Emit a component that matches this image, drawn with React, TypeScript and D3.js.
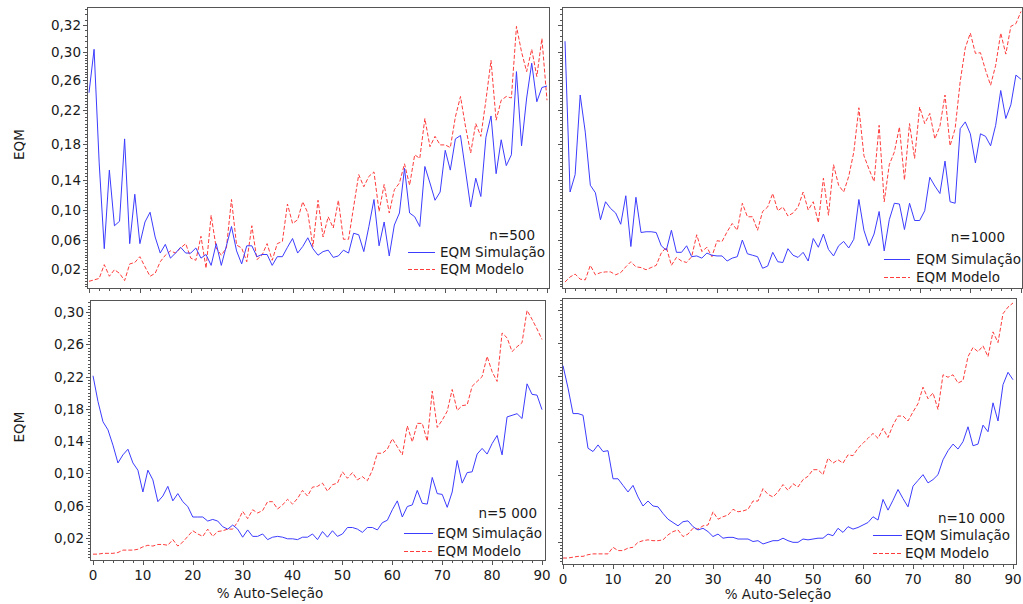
import React, { useRef, useEffect } from "react";
import * as d3 from "d3";

// % auto-seleção, 0..90
const selecao = d3.range(0, 91);

const simul500 = [
  0.243, 0.302, 0.159, 0.048, 0.151, 0.079, 0.085, 0.186, 0.055, 0.121,
  0.055, 0.084, 0.097, 0.064, 0.042, 0.054, 0.035, 0.042, 0.05, 0.042,
  0.042, 0.049, 0.035, 0.04, 0.025, 0.055, 0.025, 0.052, 0.078, 0.045,
  0.027, 0.052, 0.052, 0.037, 0.04, 0.04, 0.025, 0.037, 0.037, 0.05,
  0.062, 0.042, 0.051, 0.063, 0.048, 0.039, 0.044, 0.046, 0.036, 0.038,
  0.046, 0.042, 0.069, 0.067, 0.044, 0.078, 0.114, 0.052, 0.084, 0.038,
  0.08, 0.096, 0.153, 0.096, 0.091, 0.078, 0.155, 0.136, 0.113, 0.124,
  0.173, 0.151, 0.186, 0.19, 0.15, 0.104, 0.142, 0.118, 0.188, 0.213,
  0.147, 0.185, 0.156, 0.168, 0.272, 0.178, 0.236, 0.284, 0.231, 0.25,
  0.252,
];
const modelo500 = [
  0.003, 0.005, 0.007, 0.026, 0.01, 0.019, 0.014, 0.004, 0.027, 0.029,
  0.037, 0.023, 0.01, 0.014, 0.03, 0.039, 0.045, 0.042, 0.049, 0.055,
  0.035, 0.032, 0.065, 0.021, 0.093, 0.049, 0.039, 0.049, 0.114, 0.053,
  0.049, 0.03, 0.079, 0.033, 0.039, 0.055, 0.032, 0.055, 0.058, 0.108,
  0.082, 0.087, 0.111, 0.096, 0.051, 0.113, 0.064, 0.091, 0.076, 0.113,
  0.061, 0.061, 0.104, 0.146, 0.131, 0.144, 0.149, 0.098, 0.134, 0.096,
  0.127, 0.136, 0.158, 0.133, 0.168, 0.164, 0.21, 0.177, 0.189, 0.179,
  0.179, 0.176, 0.212, 0.238, 0.2, 0.17, 0.204, 0.189, 0.233, 0.288,
  0.208, 0.233, 0.238, 0.236, 0.319, 0.3, 0.272, 0.302, 0.265, 0.31,
  0.233,
];
const simul1000 = [
  0.308, 0.124, 0.146, 0.24, 0.194, 0.133, 0.123, 0.087, 0.111, 0.102,
  0.096, 0.081, 0.119, 0.051, 0.117, 0.07, 0.071, 0.071, 0.07, 0.052,
  0.046, 0.073, 0.043, 0.043, 0.052, 0.037, 0.038, 0.035, 0.042, 0.039,
  0.038, 0.038, 0.031, 0.035, 0.037, 0.06, 0.041, 0.039, 0.037, 0.021,
  0.024, 0.043, 0.03, 0.029, 0.048, 0.039, 0.036, 0.043, 0.031, 0.062,
  0.05, 0.068, 0.047, 0.038, 0.052, 0.058, 0.049, 0.061, 0.114, 0.073,
  0.052, 0.068, 0.098, 0.045, 0.087, 0.109, 0.108, 0.074, 0.109, 0.086,
  0.086, 0.099, 0.143, 0.132, 0.122, 0.161, 0.111, 0.109, 0.198, 0.206,
  0.192, 0.159, 0.192, 0.189, 0.178, 0.202, 0.246, 0.21, 0.227, 0.267,
  0.261,
];
const modelo1000 = [
  0.002, 0.009, 0.013, 0.006, 0.005, 0.025, 0.012, 0.015, 0.016, 0.016,
  0.012, 0.015, 0.023, 0.03, 0.023, 0.022, 0.019, 0.022, 0.025, 0.042,
  0.05, 0.025, 0.036, 0.031, 0.029, 0.037, 0.067, 0.044, 0.05, 0.037,
  0.059, 0.058, 0.071, 0.082, 0.073, 0.109, 0.091, 0.091, 0.073, 0.098,
  0.104, 0.122, 0.099, 0.104, 0.092, 0.096, 0.104, 0.124, 0.1, 0.111,
  0.083, 0.142, 0.093, 0.157, 0.133, 0.124, 0.144, 0.171, 0.223, 0.167,
  0.152, 0.138, 0.202, 0.111, 0.157, 0.171, 0.2, 0.14, 0.204, 0.164,
  0.224, 0.204, 0.216, 0.186, 0.201, 0.24, 0.178, 0.198, 0.258, 0.303,
  0.314, 0.298, 0.299, 0.274, 0.253, 0.281, 0.314, 0.297, 0.319, 0.321,
  0.33,
];
const simul5000 = [
  0.221, 0.189, 0.164, 0.154, 0.135, 0.113, 0.123, 0.13, 0.113, 0.104,
  0.077, 0.104, 0.092, 0.065, 0.072, 0.084, 0.066, 0.075, 0.065, 0.059,
  0.046, 0.046, 0.046, 0.041, 0.043, 0.041, 0.034, 0.031, 0.036, 0.031,
  0.021, 0.03, 0.022, 0.022, 0.025, 0.018, 0.021, 0.022, 0.021, 0.019,
  0.019, 0.018, 0.021, 0.021, 0.025, 0.018, 0.028, 0.021, 0.029, 0.022,
  0.025, 0.033, 0.033, 0.031, 0.027, 0.033, 0.033, 0.03, 0.039, 0.042,
  0.055, 0.066, 0.046, 0.059, 0.061, 0.079, 0.063, 0.062, 0.095, 0.075,
  0.074, 0.058, 0.077, 0.116, 0.088, 0.101, 0.102, 0.124, 0.131, 0.124,
  0.137, 0.147, 0.123, 0.17, 0.172, 0.174, 0.168, 0.211, 0.198, 0.197,
  0.179,
];
const modelo5000 = [
  0.0, 0.0, 0.001, 0.001, 0.001, 0.002, 0.005, 0.005, 0.005, 0.006,
  0.009, 0.011, 0.01, 0.012, 0.012, 0.011, 0.018, 0.01, 0.015, 0.022,
  0.029, 0.025, 0.022, 0.031, 0.022, 0.028, 0.029, 0.031, 0.031, 0.04,
  0.053, 0.044, 0.055, 0.051, 0.054, 0.065, 0.065, 0.056, 0.061, 0.068,
  0.062, 0.069, 0.079, 0.072, 0.083, 0.084, 0.088, 0.078, 0.086, 0.088,
  0.102, 0.094, 0.101, 0.092, 0.096, 0.091, 0.104, 0.125, 0.125, 0.13,
  0.143, 0.133, 0.123, 0.159, 0.139, 0.162, 0.162, 0.14, 0.202, 0.157,
  0.166, 0.177, 0.204, 0.178, 0.184, 0.185, 0.208, 0.214, 0.22, 0.245,
  0.226, 0.214, 0.274, 0.268, 0.251, 0.257, 0.262, 0.302, 0.291, 0.279,
  0.266,
];
const simul10000 = [
  0.233, 0.206, 0.175, 0.175, 0.173, 0.133, 0.129, 0.137, 0.129, 0.13,
  0.096, 0.096, 0.088, 0.08, 0.088, 0.074, 0.063, 0.069, 0.063, 0.062,
  0.054, 0.047, 0.043, 0.039, 0.044, 0.045, 0.038, 0.034, 0.036, 0.032,
  0.026, 0.029, 0.024, 0.025, 0.025, 0.023, 0.023, 0.023, 0.02, 0.021,
  0.017, 0.019, 0.021, 0.021, 0.024, 0.021, 0.019, 0.019, 0.023, 0.022,
  0.023, 0.024, 0.024, 0.029, 0.027, 0.036, 0.031, 0.038, 0.035, 0.037,
  0.04, 0.043, 0.05, 0.046, 0.071, 0.058, 0.07, 0.083, 0.072, 0.062,
  0.087, 0.094, 0.101, 0.091, 0.095, 0.101, 0.119, 0.13, 0.138, 0.132,
  0.141, 0.159, 0.136, 0.138, 0.161, 0.153, 0.188, 0.166, 0.21, 0.225,
  0.216,
];
const modelo10000 = [
  0.0, 0.0, 0.001, 0.002, 0.002, 0.004, 0.005, 0.005, 0.005, 0.005,
  0.013, 0.009, 0.009, 0.012, 0.013, 0.019, 0.021, 0.022, 0.021, 0.021,
  0.022, 0.028, 0.032, 0.034, 0.026, 0.029, 0.036, 0.035, 0.039, 0.04,
  0.056, 0.047, 0.05, 0.052, 0.059, 0.056, 0.057, 0.059, 0.069, 0.069,
  0.084, 0.077, 0.074, 0.08, 0.089, 0.082, 0.09, 0.086, 0.095, 0.099,
  0.107, 0.107, 0.101, 0.121, 0.115, 0.119, 0.115, 0.125, 0.124, 0.133,
  0.139, 0.145, 0.151, 0.145, 0.157, 0.146, 0.161, 0.172, 0.172, 0.166,
  0.177, 0.187, 0.207, 0.193, 0.2, 0.18, 0.222, 0.219, 0.222, 0.212,
  0.215, 0.244, 0.255, 0.25, 0.257, 0.244, 0.274, 0.261, 0.296, 0.304,
  0.309,
];

const yTicksTop = [0.02, 0.06, 0.1, 0.14, 0.18, 0.22, 0.26, 0.3, 0.32];
const yTicksBottom = [0.02, 0.06, 0.1, 0.14, 0.18, 0.22, 0.26, 0.3];
const xTicks = [0, 10, 20, 30, 40, 50, 60, 70, 80, 90];
const sampleSizes = ["n=500", "n=1000", "n=5 000", "n=10 000"];
const legendLabels = ["EQM Simulação", "EQM Modelo"];

const BLUE = "#3c3cff";
const RED = "#ff3c3c";
const FRAME = "#555";
const fmt = (v) => d3.format(".2f")(v).replace(".", ",");

// top row uses the hand-placed tick spacing of the original axis
const yTop = d3
  .scaleLinear()
  .domain(yTicksTop)
  .range([269, 240, 210, 180, 144, 110, 80, 52, 25]);

const panels = [
  {
    frame: { left: 87, right: 549, top: 7, bottom: 288 },
    xRange: [89, 547],
    y: yTop,
    ticks: yTicksTop,
    sim: simul500,
    mod: modelo500,
    label: sampleSizes[0],
    yLabels: true,
    xLabels: false,
    legend: { right: 535, nY: 235, l0: 408, l1: 435, tx: 440, rows: [252, 269] },
  },
  {
    frame: { left: 562, right: 1022, top: 7, bottom: 288 },
    xRange: [565, 1021],
    y: yTop,
    ticks: yTicksTop,
    sim: simul1000,
    mod: modelo1000,
    label: sampleSizes[1],
    yLabels: false,
    xLabels: false,
    legend: { right: 1005, nY: 237, l0: 884, l1: 910, tx: 916, rows: [259, 277] },
  },
  {
    frame: { left: 90, right: 545, top: 300, bottom: 560 },
    xRange: [93, 542],
    y: d3.scaleLinear().domain([0.02, 0.3]).range([538, 312]),
    ticks: yTicksBottom,
    sim: simul5000,
    mod: modelo5000,
    label: sampleSizes[2],
    yLabels: true,
    xLabels: true,
    title: { x: 270, y: 593 },
    legend: { right: 537, nY: 513, l0: 404, l1: 433, tx: 437, rows: [533, 551] },
  },
  {
    frame: { left: 562, right: 1016, top: 298, bottom: 564 },
    xRange: [563, 1013],
    y: d3.scaleLinear().domain([0.02, 0.3]).range([541.5, 310.4]),
    ticks: yTicksBottom,
    sim: simul10000,
    mod: modelo10000,
    label: sampleSizes[3],
    yLabels: false,
    xLabels: true,
    title: { x: 778, y: 594 },
    legend: { right: 1005, nY: 518, l0: 873, l1: 902, tx: 905, rows: [535, 553] },
  },
];

const drawPanel = (svg, p) => {
  const { frame, y } = p;
  const x = d3.scaleLinear().domain([0, 90]).range(p.xRange);
  const g = svg.append("g");

  g.append("rect")
    .attr("x", frame.left + 0.5)
    .attr("y", frame.top + 0.5)
    .attr("width", frame.right - frame.left)
    .attr("height", frame.bottom - frame.top)
    .attr("fill", "none")
    .attr("stroke", FRAME);

  // y ticks (minor every 0.004, major at the labels)
  const minor = d3
    .range(-7, 80)
    .map((k) => 0.02 + k * 0.004)
    .filter((v) => y(v) <= frame.bottom && y(v) >= frame.top);
  g.selectAll(".ymin")
    .data(minor)
    .enter()
    .append("line")
    .attr("x1", frame.left - 2)
    .attr("x2", frame.left)
    .attr("y1", (d) => Math.round(y(d)) + 0.5)
    .attr("y2", (d) => Math.round(y(d)) + 0.5)
    .attr("stroke", FRAME);
  g.selectAll(".ymaj")
    .data(p.ticks)
    .enter()
    .append("line")
    .attr("x1", frame.left - 4)
    .attr("x2", frame.left)
    .attr("y1", (d) => Math.round(y(d)) + 0.5)
    .attr("y2", (d) => Math.round(y(d)) + 0.5)
    .attr("stroke", FRAME);
  if (p.yLabels) {
    g.selectAll(".ylab")
      .data(p.ticks)
      .enter()
      .append("text")
      .attr("x", frame.left - 6)
      .attr("y", (d) => y(d))
      .attr("text-anchor", "end")
      .attr("dominant-baseline", "central")
      .text(fmt);
    g.append("text")
      .attr("transform", `translate(19,${(frame.top + frame.bottom) / 2 - 3}) rotate(-90)`)
      .attr("text-anchor", "middle")
      .attr("dominant-baseline", "central")
      .text("EQM");
  }

  // x ticks (minor every 2, major every 10)
  g.selectAll(".xmin")
    .data(d3.range(0, 91, 2))
    .enter()
    .append("line")
    .attr("x1", (d) => Math.round(x(d)) + 0.5)
    .attr("x2", (d) => Math.round(x(d)) + 0.5)
    .attr("y1", frame.bottom)
    .attr("y2", frame.bottom + 3)
    .attr("stroke", FRAME);
  g.selectAll(".xmaj")
    .data(xTicks)
    .enter()
    .append("line")
    .attr("x1", (d) => Math.round(x(d)) + 0.5)
    .attr("x2", (d) => Math.round(x(d)) + 0.5)
    .attr("y1", frame.bottom)
    .attr("y2", frame.bottom + 5)
    .attr("stroke", FRAME);
  if (p.xLabels) {
    g.selectAll(".xlab")
      .data(xTicks)
      .enter()
      .append("text")
      .attr("x", (d) => x(d))
      .attr("y", frame.bottom + 15)
      .attr("text-anchor", "middle")
      .attr("dominant-baseline", "central")
      .text((d) => d);
    g.append("text")
      .attr("x", p.title.x)
      .attr("y", p.title.y)
      .attr("text-anchor", "middle")
      .attr("dominant-baseline", "central")
      .text("% Auto-Seleção");
  }

  const line = d3
    .line()
    .x((d, i) => x(selecao[i]))
    .y((d) => y(d));

  g.append("path")
    .datum(p.mod)
    .attr("fill", "none")
    .attr("stroke", RED)
    .attr("stroke-width", 1)
    .attr("stroke-dasharray", "4,2")
    .attr("d", line);
  g.append("path")
    .datum(p.sim)
    .attr("fill", "none")
    .attr("stroke", BLUE)
    .attr("stroke-width", 1)
    .attr("d", line);

  // legend
  const lg = p.legend;
  g.append("text")
    .attr("x", lg.right)
    .attr("y", lg.nY)
    .attr("text-anchor", "end")
    .attr("dominant-baseline", "central")
    .text(p.label);
  [BLUE, RED].forEach((c, i) => {
    g.append("line")
      .attr("x1", lg.l0)
      .attr("x2", lg.l1)
      .attr("y1", lg.rows[i] + 0.5)
      .attr("y2", lg.rows[i] + 0.5)
      .attr("stroke", c)
      .attr("stroke-dasharray", i === 1 ? "4,2" : null);
    g.append("text")
      .attr("x", lg.tx)
      .attr("y", lg.rows[i])
      .attr("dominant-baseline", "central")
      .text(legendLabels[i]);
  });
};

const App = () => {
  const ref = useRef(null);

  useEffect(() => {
    const svg = d3.select(ref.current);
    svg.selectAll("*").remove();
    svg
      .attr("width", 1023)
      .attr("height", 604)
      .style("font-family", "'DejaVu Sans', Verdana, sans-serif")
      .style("font-size", "13.5px")
      .style("fill", "#1a1a1a");

    svg.append("rect").attr("width", 1023).attr("height", 604).attr("fill", "#fff");
    panels.forEach((p) => drawPanel(svg, p));

    return () => {
      svg.selectAll("*").remove();
    };
  }, []);

  return (
    <svg
      ref={ref}
      style={{ display: "block", position: "absolute", left: 0, top: 0 }}
    />
  );
};

export default App;
